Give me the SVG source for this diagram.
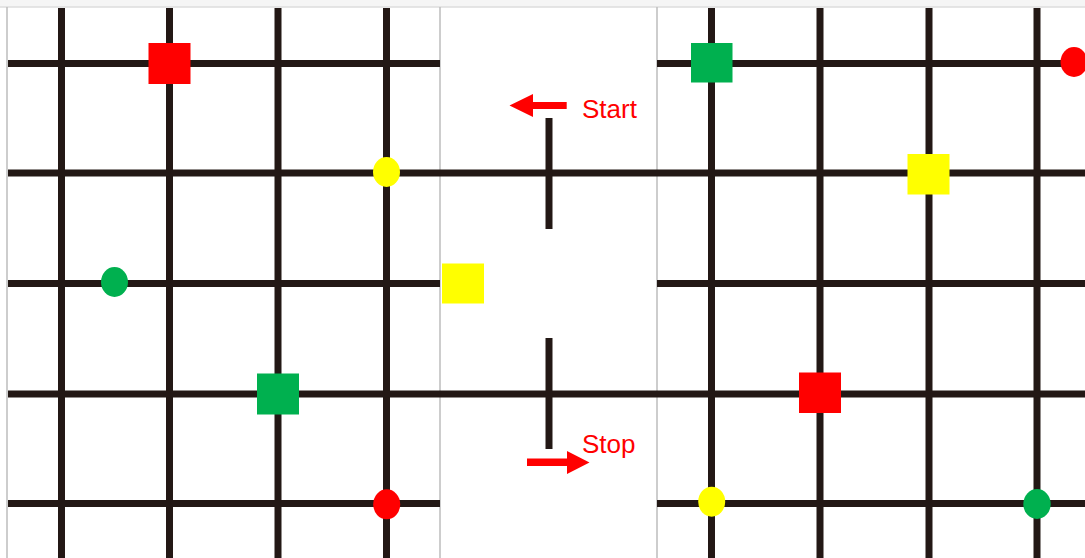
<svg xmlns="http://www.w3.org/2000/svg" width="1085" height="558" viewBox="0 0 1085 558">
<style>
.g{stroke:#231815;stroke-width:7;fill:none}
.fr{stroke:#bdbdbd;stroke-width:1.5;fill:none}
.lbl{font-family:"Liberation Sans",Arial,sans-serif;font-size:26px;fill:#ff0000}
.red{fill:#ff0000}.yel{fill:#ffff00}.grn{fill:#00b04f}
</style>
<rect width="1085" height="558" fill="#ffffff"/>
<rect width="1085" height="7" fill="#f5f5f5"/>
<line x1="0" y1="7" x2="1085" y2="7" stroke="#dcdcdc" stroke-width="1.5"/>
<g id="frames" class="fr">
<line x1="7" y1="7" x2="7" y2="558"/>
<line x1="440" y1="7" x2="440" y2="558"/>
<line x1="657" y1="7" x2="657" y2="558"/>
</g>
<g id="grid" class="g">
<line x1="61.5" y1="8" x2="61.5" y2="558"/>
<line x1="169.5" y1="8" x2="169.5" y2="558"/>
<line x1="278" y1="8" x2="278" y2="558"/>
<line x1="386.5" y1="8" x2="386.5" y2="558"/>
<line x1="711.5" y1="8" x2="711.5" y2="558"/>
<line x1="820" y1="8" x2="820" y2="558"/>
<line x1="929" y1="8" x2="929" y2="558"/>
<line x1="1037" y1="8" x2="1037" y2="558"/>
<line x1="8" y1="63.5" x2="440" y2="63.5"/>
<line x1="657" y1="63.5" x2="1085" y2="63.5"/>
<line x1="8" y1="173" x2="1085" y2="173"/>
<line x1="8" y1="283.5" x2="440" y2="283.5"/>
<line x1="657" y1="283.5" x2="1085" y2="283.5"/>
<line x1="8" y1="394" x2="1085" y2="394"/>
<line x1="8" y1="503.5" x2="440" y2="503.5"/>
<line x1="657" y1="503.5" x2="1085" y2="503.5"/>
<line x1="549" y1="118" x2="549" y2="229"/>
<line x1="549" y1="338" x2="549" y2="449"/>
</g>
<g id="left-markers">
<rect class="red" x="148.5" y="43" width="42" height="41"/>
<ellipse class="yel" cx="386.5" cy="172" rx="13.5" ry="15"/>
<ellipse class="grn" cx="114.5" cy="282" rx="13.5" ry="15"/>
<rect class="grn" x="257" y="373.5" width="42" height="41"/>
<ellipse class="red" cx="386.7" cy="504.3" rx="13.5" ry="15"/>
</g>
<g id="middle-markers">
<rect class="yel" x="442" y="263.5" width="42" height="40"/>
</g>
<g id="right-markers">
<rect class="grn" x="691" y="43" width="41.5" height="39.5"/>
<ellipse class="red" cx="1074" cy="62" rx="13.5" ry="15"/>
<rect class="yel" x="907.5" y="154" width="42" height="40.5"/>
<rect class="red" x="799" y="372.5" width="42" height="40.5"/>
<ellipse class="yel" cx="711.7" cy="501.7" rx="13.5" ry="15"/>
<ellipse class="grn" cx="1037" cy="504" rx="13.7" ry="15"/>
</g>
<g id="start">
<polygon class="red" points="509.5,105.5 533,94 533,102 566.7,102 566.7,109 533,109 533,117"/>
<text class="lbl" x="582" y="118">Start</text>
</g>
<g id="stop">
<polygon class="red" points="527,458.5 567,458.5 567,451 589.5,462.5 567,474 567,466 527,466"/>
<text class="lbl" x="582" y="453">Stop</text>
</g>
</svg>
